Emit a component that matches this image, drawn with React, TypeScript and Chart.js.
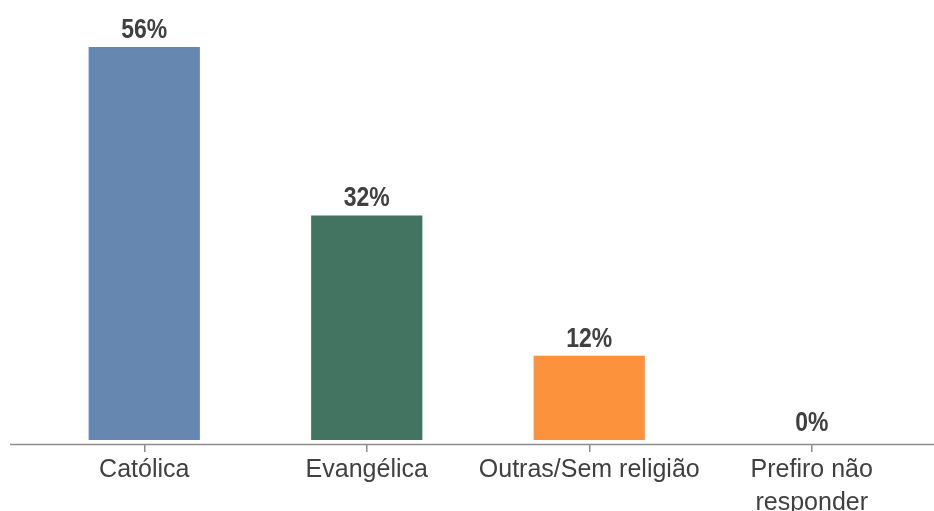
import React, { useEffect, useRef } from "react";
import { Chart, registerables } from "chart.js";

Chart.register(...registerables);

const categories: (string | string[])[] = ["Católica", "Evangélica", "Outras/Sem religião", ["Prefiro não", "responder"]];
const values = [56, 32, 12, 0];
const barColors = ["#6587b0", "#437361", "#fc923c", "#fc923c"];
const valueLabels = ["56%", "32%", "12%", "0%"];

const labelPlugin = {
  id: "valueLabels",
  afterDatasetsDraw(chart: any) {
    const ctx = chart.ctx;
    const meta = chart.getDatasetMeta(0);
    ctx.save();
    ctx.fillStyle = "#404040";
    ctx.font = 'bold 28px "Liberation Sans", Arial, sans-serif';
    ctx.textAlign = "center";
    ctx.textBaseline = "alphabetic";
    meta.data.forEach((bar: any, i: number) => {
      ctx.save();
      ctx.translate(bar.x, bar.y - 9);
      ctx.scale(0.82, 1);
      ctx.fillText(valueLabels[i], 0, 0);
      ctx.restore();
    });
    ctx.restore();
  },
};

const axisLinePlugin = {
  id: "axisLine",
  afterDraw(chart: any) {
    const ctx = chart.ctx;
    const y = chart.scales.y.getPixelForValue(chart.scales.y.min);
    ctx.save();
    ctx.strokeStyle = "#8c8c8c";
    ctx.lineWidth = 1.5;
    ctx.beginPath();
    ctx.moveTo(10, Math.round(y) - 0.5);
    ctx.lineTo(chart.width, Math.round(y) - 0.5);
    ctx.stroke();
    ctx.restore();
  },
};

export default function App() {
  const ref = useRef<HTMLCanvasElement>(null);
  useEffect(() => {
    document.body.style.margin = "0";
    const chart = new Chart(ref.current!, {
      type: "bar",
      data: {
        labels: categories,
        datasets: [
          {
            data: values,
            backgroundColor: barColors,
            borderWidth: 0,
            barPercentage: 0.5,
            categoryPercentage: 1,
          },
        ],
      },
      options: {
        animation: false,
        responsive: false,
        maintainAspectRatio: false,
        layout: { padding: { left: 33, right: 11, top: 19, bottom: 0 } },
        plugins: { legend: { display: false }, tooltip: { enabled: false } },
        scales: {
          x: {
            grid: { display: true, offset: false, drawOnChartArea: false, tickLength: 7, color: "#8c8c8c", lineWidth: 1.5 },
            border: { display: false },
            ticks: {
              color: "#404040",
              font: { family: '"Liberation Sans", Arial, sans-serif', size: 25, lineHeight: 1.3 },
              padding: 2,
              maxRotation: 0,
              autoSkip: false,
            },
            afterFit: (scale: any) => {
              scale.height = 66;
            },
          },
          y: {
            display: false,
            min: -0.71,
            max: 60,
          },
        },
      },
      plugins: [labelPlugin, axisLinePlugin],
    });
    return () => chart.destroy();
  }, []);
  return (
    <div style={{ width: 934, height: 511, background: "#fff" }}>
      <canvas ref={ref} width={934} height={511} />
    </div>
  );
}
